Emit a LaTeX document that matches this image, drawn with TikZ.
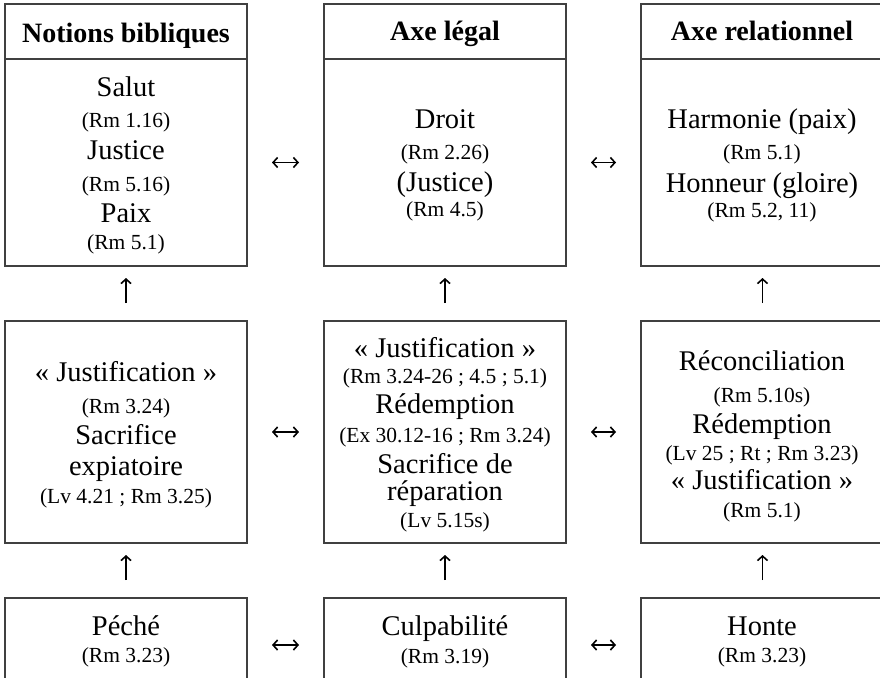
\documentclass[tikz,border=0pt]{standalone}
\usepackage{fontspec}
\setmainfont{Liberation Serif}
\usetikzlibrary{arrows.meta}
\tikzset{
  boxst/.style={draw=black!75, line width=1.8pt, inner sep=0pt, outer sep=0pt, anchor=north west},
  big/.style={font=\fontsize{28.5}{30}\selectfont, anchor=base, inner sep=0pt},
  small/.style={font=\fontsize{21.5}{23}\selectfont, anchor=base, inner sep=0pt},
  head/.style={font=\bfseries\fontsize{28}{30}\selectfont, anchor=base, inner sep=0pt},
  tipst/.tip={Straight Barb[length=4.5pt,width=10pt,line width=1.6pt]},
  harr/.style={tipst-tipst, line width=1.5pt, shorten <=25pt, shorten >=25pt},
  varr/.style={-tipst, line width=1.5pt, shorten <=18pt, shorten >=12pt},
}
\begin{document}
\begin{tikzpicture}[x=1pt,y=-1pt]
\useasboundingbox (0,0) rectangle (880,677);
\clip (0,0) rectangle (880,677);
% boxes
\node[boxst, minimum width=242pt, minimum height=55pt] (h1) at (5,4) {};
\node[boxst, minimum width=242pt, minimum height=207pt] (b1) at (5,59) {};
\node[boxst, minimum width=242pt, minimum height=55pt] (h2) at (324,4) {};
\node[boxst, minimum width=242pt, minimum height=207pt] (b2) at (324,59) {};
\node[boxst, minimum width=243pt, minimum height=55pt] (h3) at (641,4) {};
\node[boxst, minimum width=243pt, minimum height=207pt] (b3) at (641,59) {};
\node[boxst, minimum width=242pt, minimum height=222pt] (m1) at (5,321) {};
\node[boxst, minimum width=242pt, minimum height=222pt] (m2) at (324,321) {};
\node[boxst, minimum width=243pt, minimum height=222pt] (m3) at (641,321) {};
\node[boxst, minimum width=242pt, minimum height=94pt] (d1) at (5,598) {};
\node[boxst, minimum width=242pt, minimum height=94pt] (d2) at (324,598) {};
\node[boxst, minimum width=243pt, minimum height=94pt] (d3) at (641,598) {};
% connectors
\draw[harr] (b1) -- (b2);
\draw[harr] (b2) -- (b3);
\draw[harr] (m1) -- (m2);
\draw[harr] (m2) -- (m3);
\draw[harr] (d1) -- (d2);
\draw[harr] (d2) -- (d3);
\draw[varr] (m1) -- (b1);
\draw[varr] (m2) -- (b2);
\draw[varr] (m3) -- (b3);
\draw[varr] (d1) -- (m1);
\draw[varr] (d2) -- (m2);
\draw[varr] (d3) -- (m3);
% headers
\node[head] (th1) at (126,42) {Notions bibliques};
\node[head] (th2) at (445,41) {Axe légal};
\node[head] (th3) at (762,41) {Axe relationnel};
% column 1 top
\node[big] (a1) at (126,96) {Salut};
\node[small] (a2) at (126,127) {(Rm 1.16)};
\node[big] (a3) at (126,159) {Justice};
\node[small] (a4) at (126,191) {(Rm 5.16)};
\node[big] (a5) at (126,222) {Paix};
\node[small] (a6) at (126,249) {(Rm 5.1)};
% column 2 top
\node[big] (b1t) at (445,128) {Droit};
\node[small] (b2t) at (445,159) {(Rm 2.26)};
\node[big] (b3t) at (445,191) {(Justice)};
\node[small] (b4t) at (445,216) {(Rm 4.5)};
% column 3 top
\node[big] (c1) at (762,128) {Harmonie (paix)};
\node[small] (c2) at (762,159) {(Rm 5.1)};
\node[big] (c3) at (762,192) {Honneur (gloire)};
\node[small] (c4) at (762,217) {(Rm 5.2, 11)};
% column 1 middle
\node[big] (e1) at (126,381) {«~Justification~»};
\node[small] (e2) at (126,413) {(Rm 3.24)};
\node[big] (e3) at (126,444) {Sacrifice};
\node[big] (e4) at (126,475) {expiatoire};
\node[small] (e5) at (126,503) {(Lv 4.21 ; Rm 3.25)};
% column 2 middle
\node[big] (f1) at (445,357) {«~Justification~»};
\node[small] (f2) at (445,383) {(Rm 3.24-26 ; 4.5 ; 5.1)};
\node[big] (f3) at (445,413) {Rédemption};
\node[small] (f4) at (445,442) {(Ex 30.12-16 ; Rm 3.24)};
\node[big] (f5) at (445,473) {Sacrifice de};
\node[big] (f6) at (445,500) {réparation};
\node[small] (f7) at (445,527) {(Lv 5.15s)};
% column 3 middle
\node[big] (g1) at (762,370) {Réconciliation};
\node[small] (g2) at (762,402) {(Rm 5.10s)};
\node[big] (g3) at (762,433) {Rédemption};
\node[small] (g4) at (762,460) {(Lv 25 ; Rt ; Rm 3.23)};
\node[big] (g5) at (762,489) {«~Justification~»};
\node[small] (g6) at (762,517) {(Rm 5.1)};
% bottom row
\node[big] (p1) at (126,635) {Péché};
\node[small] (p2) at (126,662) {(Rm 3.23)};
\node[big] (q1) at (445,635) {Culpabilité};
\node[small] (q2) at (445,663) {(Rm 3.19)};
\node[big] (r1) at (762,635) {Honte};
\node[small] (r2) at (762,662) {(Rm 3.23)};
\end{tikzpicture}
\end{document}
